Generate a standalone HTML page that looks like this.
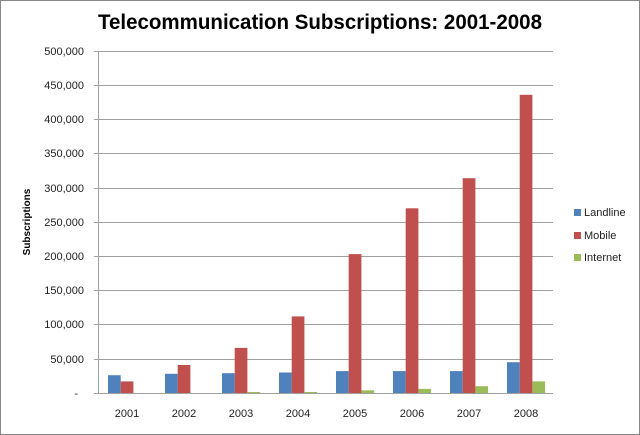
<!DOCTYPE html>
<html><head><style>body{margin:0;background:#fff}svg{display:block;font-family:"Liberation Sans",sans-serif}</style></head>
<body>
<svg width="640" height="435" viewBox="0 0 640 435">
<rect x="0.5" y="0.5" width="639" height="434" fill="#fff" stroke="#888"/>
<text x="320" y="29" text-anchor="middle" font-size="21" font-weight="bold" textLength="444" lengthAdjust="spacingAndGlyphs">Telecommunication Subscriptions: 2001-2008</text>
<g stroke="#a0a0a0" stroke-width="1">
<line x1="94" x2="553" y1="51.5" y2="51.5"/><line x1="94" x2="553" y1="85.5" y2="85.5"/><line x1="94" x2="553" y1="119.5" y2="119.5"/><line x1="94" x2="553" y1="153.5" y2="153.5"/><line x1="94" x2="553" y1="188.5" y2="188.5"/><line x1="94" x2="553" y1="222.5" y2="222.5"/><line x1="94" x2="553" y1="256.5" y2="256.5"/><line x1="94" x2="553" y1="290.5" y2="290.5"/><line x1="94" x2="553" y1="324.5" y2="324.5"/><line x1="94" x2="553" y1="359.5" y2="359.5"/><line x1="94" x2="553" y1="393.5" y2="393.5"/>
<line x1="98.5" x2="98.5" y1="51" y2="394"/>
</g>
<g font-size="11" text-anchor="end" fill="#222">
<text x="84" y="55">500,000</text><text x="84" y="89">450,000</text><text x="84" y="123">400,000</text><text x="84" y="157">350,000</text><text x="84" y="192">300,000</text><text x="84" y="226">250,000</text><text x="84" y="260">200,000</text><text x="84" y="294">150,000</text><text x="84" y="328">100,000</text><text x="84" y="363">50,000</text><text x="78" y="397">-</text>
</g>
<text transform="translate(30,222) rotate(-90)" text-anchor="middle" font-size="10" font-weight="bold">Subscriptions</text>
<g fill="#4f81bd">
<rect x="108" y="375.2" width="12.7" height="17.8"/>
<rect x="165" y="373.8" width="12.7" height="19.2"/>
<rect x="222" y="373.2" width="12.7" height="19.8"/>
<rect x="279" y="372.5" width="12.7" height="20.5"/>
<rect x="336" y="371.1" width="12.7" height="21.9"/>
<rect x="393" y="371.1" width="12.7" height="21.9"/>
<rect x="450" y="371.1" width="12.7" height="21.9"/>
<rect x="507" y="362.2" width="12.7" height="30.8"/>
</g>
<g fill="#c0504d">
<rect x="120.7" y="381.4" width="12.7" height="11.6"/>
<rect x="177.7" y="365" width="12.7" height="28"/>
<rect x="234.7" y="347.9" width="12.7" height="45.1"/>
<rect x="291.7" y="316.4" width="12.7" height="76.6"/>
<rect x="348.7" y="254.1" width="12.7" height="138.9"/>
<rect x="405.7" y="208.3" width="12.7" height="184.7"/>
<rect x="462.7" y="178.2" width="12.7" height="214.8"/>
<rect x="519.7" y="94.8" width="12.7" height="298.2"/>
</g>
<g fill="#9bbb59">
<rect x="247.4" y="392" width="12.7" height="1"/>
<rect x="304.4" y="392" width="12.7" height="1"/>
<rect x="361.4" y="390.3" width="12.7" height="2.7"/>
<rect x="418.4" y="388.9" width="12.7" height="4.1"/>
<rect x="475.4" y="386.2" width="12.7" height="6.8"/>
<rect x="532.4" y="381.4" width="12.7" height="11.6"/>
</g>
<g font-size="11" text-anchor="middle" fill="#222">
<text x="127" y="417">2001</text><text x="184" y="417">2002</text><text x="241" y="417">2003</text><text x="298" y="417">2004</text><text x="355" y="417">2005</text><text x="412" y="417">2006</text><text x="469" y="417">2007</text><text x="526" y="417">2008</text>
</g>
<g font-size="11" fill="#222">
<rect x="574" y="209" width="7" height="7" fill="#4f81bd"/><text x="584" y="216">Landline</text>
<rect x="574" y="232" width="7" height="7" fill="#c0504d"/><text x="584" y="239">Mobile</text>
<rect x="574" y="254" width="7" height="7" fill="#9bbb59"/><text x="584" y="261">Internet</text>
</g>
</svg>
</body></html>
